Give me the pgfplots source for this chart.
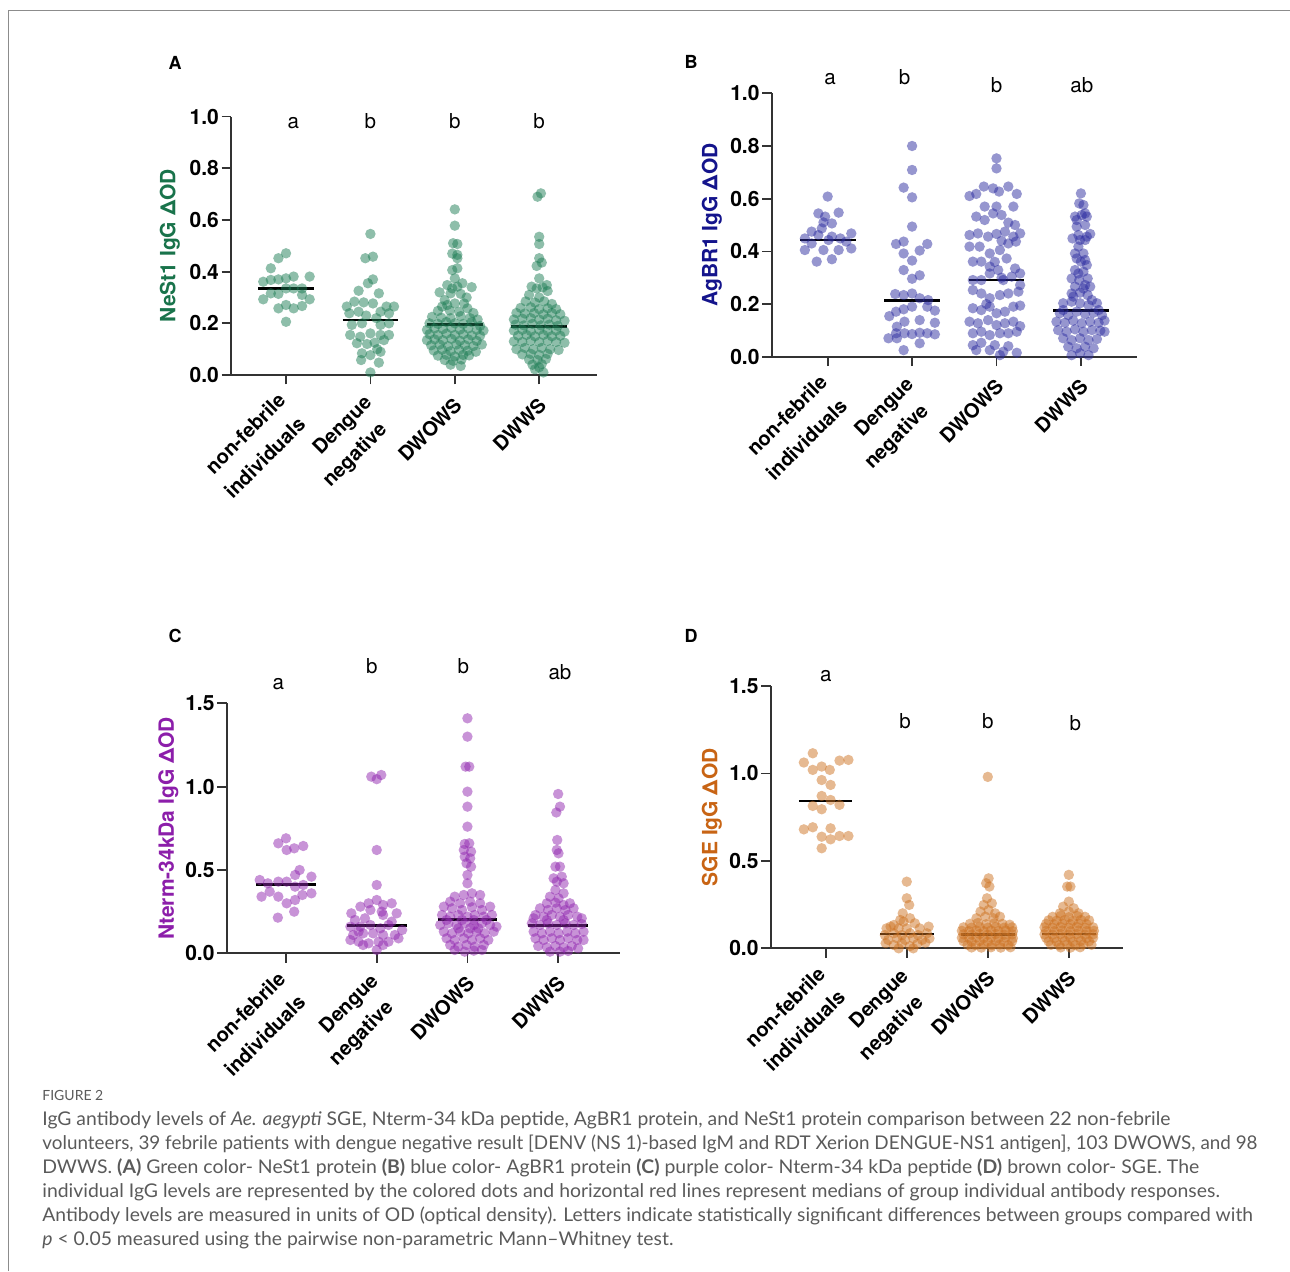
\documentclass[border=0pt]{standalone}
\usepackage{graphicx}
\usepackage{pgfplots}
\pgfplotsset{compat=1.18}
\usepackage{fontspec}
\setmainfont{TeX Gyre Heros}
\newfontfamily\capfont{Lato}
\definecolor{cg}{RGB}{30,125,85}
\definecolor{lg}{RGB}{25,115,75}
\definecolor{cb}{RGB}{45,45,160}
\definecolor{lb}{RGB}{20,20,140}
\definecolor{cp}{RGB}{145,40,175}
\definecolor{lp}{RGB}{140,30,170}
\definecolor{co}{RGB}{205,115,35}
\definecolor{lo}{RGB}{200,100,20}
\definecolor{capgray}{RGB}{90,90,90}
\tikzset{lett/.style={anchor=base, font=\fontsize{10.3}{12}\selectfont},
  xl/.style={rotate=45, anchor=north east, inner sep=0pt, text height=7.1pt, text depth=0pt, font=\fontsize{10}{12}\selectfont\bfseries}}
\newcommand\xlabs{%
\node[xl] at ([shift={(-4.65pt,-8.2pt)}]axis cs:0,0) {non-febrile};
\node[xl] at ([shift={(5.35pt,-20.05pt)}]axis cs:0,0) {individuals};
\node[xl] at ([shift={(-3.8pt,-9.2pt)}]axis cs:1,0) {Dengue};
\node[xl] at ([shift={(3.7pt,-22.55pt)}]axis cs:1,0) {negative};
\node[xl] at ([shift={(-0.85pt,-10.5pt)}]axis cs:2,0) {DWOWS};
\node[xl] at ([shift={(-0.85pt,-10.5pt)}]axis cs:3,0) {DWWS};
}
\pgfplotsset{
  prism/.style={
    scale only axis, anchor=south west, clip=false,
    axis lines=left, axis line style={-, line width=0.85pt, draw=black!80},
    tick align=outside, major tick length=4.7pt,
    every tick/.style={line width=0.85pt, draw=black!80},
    xtick={0,1,2,3}, xticklabels={},
    yticklabel style={font=\fontsize{10.5}{12}\selectfont\bfseries, inner xsep=1.2pt},
    /pgf/number format/fixed, /pgf/number format/fixed zerofill,
    /pgf/number format/precision=1, /pgf/number format/assume math mode=true,
    ymin=0,
  },
  ylab/.style={every axis y label/.style={at={(axis description cs:#1,0.5)}, rotate=90, anchor=center, font=\fontsize{10.5}{12}\selectfont\bfseries}},
  dots/.style={only marks, mark=*, mark size=2.6pt, color=#1, mark options={draw opacity=0, line width=0pt, fill=#1, fill opacity=0.5}},
  med/.style={black, line width=1.4pt, no marks},
}
\begin{document}
\begin{tikzpicture}[x=0.5pt,y=-0.5pt]
\useasboundingbox (0,0) rectangle (1290,1271);
\draw[black!45, line width=0.5pt] (8,1271) -- (8,10) -- (1290,10);
% panel letters
\node[font=\fontsize{9}{10}\selectfont\bfseries] at (175,63) {A};
\node[font=\fontsize{9}{10}\selectfont\bfseries] at (691,62) {B};
\node[font=\fontsize{9}{10}\selectfont\bfseries] at (175,636) {C};
\node[font=\fontsize{9}{10}\selectfont\bfseries] at (691,636) {D};

% ================= A =================
\begin{axis}[prism, at={(115.5pt,-187.5pt)}, width=183pt, height=129.2pt,
  xmin=-0.652, xmax=3.685, ymax=1, ytick={0,0.2,0.4,0.6,0.8,1},
  ylab=-0.167, ylabel={\color{lg}NeSt1 IgG ΔOD}]
\addplot[dots=cg] table[x expr=\thisrow{d}+0, y=v, row sep=\\] {d v\\
0 0.471\\ -0.09 0.452\\ -0.18 0.413\\ -0.27 0.361\\ -0.18 0.368\\ -0.09 0.370\\ 0 0.374\\ 0.09 0.381\\ 0.28 0.381\\ -0.27 0.293\\ -0.18 0.316\\ -0.09 0.314\\ 0.09 0.335\\ 0.19 0.310\\ 0.28 0.293\\ -0.09 0.258\\ 0 0.271\\ 0.09 0.258\\ 0.19 0.267\\ 0 0.206\\ 0.19 0.335\\ 0 0.335\\};
\addplot[dots=cg] table[x expr=\thisrow{d}+1, y=v, row sep=\\] {d v\\
0 0.546\\ -0.06 0.452\\ 0.03 0.458\\ 0.03 0.370\\ -0.03 0.355\\ -0.14 0.326\\ 0.10 0.316\\ -0.28 0.265\\ -0.19 0.284\\ -0.08 0.281\\ 0.03 0.277\\ 0.19 0.265\\ 0.28 0.265\\ -0.25 0.239\\ -0.14 0.245\\ 0.12 0.245\\ 0.22 0.239\\ -0.22 0.194\\ -0.10 0.200\\ 0.12 0.194\\ 0.22 0.200\\ -0.24 0.155\\ -0.12 0.148\\ 0 0.161\\ 0.12 0.155\\ -0.16 0.123\\ -0.04 0.120\\ 0.05 0.125\\ 0.16 0.135\\ -0.10 0.084\\ 0 0.077\\ 0.12 0.090\\ 0.10 0.048\\ -0.11 0.058\\ 0 0.010\\ 0.22 0.155\\ -0.05 0.230\\ 0.07 0.220\\ 0.08 0.100\\};
\addplot[dots=cg] table[x expr=\thisrow{d}+2, y=v, row sep=\\] {d v\\
0 0.641\\ 0 0.578\\ -0.02 0.510\\ 0.03 0.507\\ -0.03 0.470\\ 0.03 0.465\\ 0.03 0.452\\ -0.03 0.406\\ 0.03 0.413\\ 0 0.374\\ -0.09 0.348\\ 0.09 0.355\\ -0.03 0.335\\ 0.03 0.342\\ -0.05 0.316\\ 0.07 0.314\\ 0 0.277\\ -0.09 0.271\\ 0.11 0.277\\ -0.15 0.265\\ 0.15 0.258\\
-0.2 0.248\\ -0.06 0.25\\ 0.05 0.245\\ 0.22 0.24\\
-0.27 0.225\\ -0.16 0.222\\ -0.05 0.22\\ 0.07 0.228\\ 0.18 0.22\\ 0.27 0.215\\
-0.3 0.2\\ -0.2 0.198\\ -0.1 0.205\\ 0 0.2\\ 0.1 0.198\\ 0.2 0.205\\ 0.3 0.19\\
-0.33 0.175\\ -0.24 0.18\\ -0.14 0.178\\ -0.04 0.182\\ 0.06 0.176\\ 0.16 0.18\\ 0.26 0.175\\ 0.34 0.172\\
-0.3 0.158\\ -0.2 0.155\\ -0.1 0.16\\ 0 0.155\\ 0.1 0.158\\ 0.2 0.153\\ 0.3 0.152\\
-0.33 0.135\\ -0.24 0.138\\ -0.14 0.135\\ -0.04 0.14\\ 0.06 0.133\\ 0.16 0.138\\ 0.26 0.132\\
-0.28 0.115\\ -0.18 0.118\\ -0.08 0.112\\ 0.02 0.118\\ 0.12 0.115\\ 0.22 0.112\\ 0.32 0.118\\
-0.25 0.095\\ -0.15 0.098\\ -0.05 0.092\\ 0.05 0.097\\ 0.15 0.094\\ 0.25 0.09\\
-0.2 0.075\\ -0.1 0.078\\ 0 0.072\\ 0.1 0.078\\ 0.17 0.076\\
-0.12 0.058\\ -0.02 0.055\\ 0.08 0.06\\ -0.05 0.04\\ 0.07 0.035\\
-0.12 0.29\\ 0.14 0.3\\ -0.18 0.32\\ 0.2 0.34\\};
\addplot[dots=cg] table[x expr=\thisrow{d}+3, y=v, row sep=\\] {d v\\
-0.02 0.690\\ 0.02 0.703\\ 0 0.535\\ 0 0.507\\ 0 0.452\\ -0.03 0.422\\ 0.03 0.435\\ 0 0.374\\ -0.09 0.342\\ 0.09 0.348\\ -0.03 0.335\\ 0.04 0.339\\ 0.1 0.325\\ -0.12 0.31\\ 0 0.3\\
-0.16 0.285\\ -0.05 0.28\\ 0.06 0.285\\ 0.15 0.275\\
-0.22 0.26\\ -0.1 0.262\\ 0 0.255\\ 0.1 0.258\\ 0.2 0.255\\
-0.27 0.24\\ -0.17 0.238\\ -0.06 0.24\\ 0.05 0.235\\ 0.15 0.24\\ 0.25 0.235\\
-0.3 0.215\\ -0.2 0.218\\ -0.1 0.22\\ 0 0.215\\ 0.1 0.218\\ 0.2 0.212\\ 0.3 0.21\\
-0.28 0.195\\ -0.18 0.192\\ -0.08 0.198\\ 0.02 0.192\\ 0.12 0.195\\ 0.22 0.19\\
-0.3 0.172\\ -0.2 0.175\\ -0.1 0.17\\ 0 0.175\\ 0.1 0.17\\ 0.2 0.172\\ 0.3 0.168\\
-0.25 0.152\\ -0.15 0.155\\ -0.05 0.15\\ 0.05 0.155\\ 0.15 0.15\\ 0.25 0.152\\
-0.3 0.13\\ -0.2 0.128\\ -0.1 0.132\\ 0 0.128\\ 0.1 0.132\\ 0.2 0.128\\ 0.3 0.125\\
-0.27 0.1\\ -0.17 0.105\\ -0.07 0.1\\ 0.03 0.105\\ 0.13 0.1\\ 0.23 0.097\\
-0.2 0.08\\ -0.1 0.082\\ 0 0.078\\ 0.1 0.082\\
-0.12 0.06\\ -0.02 0.058\\ 0.08 0.062\\ -0.08 0.04\\ 0.03 0.042\\ -0.05 0.022\\ 0.05 0.01\\ 0 0.03\\};
\addplot[med] coordinates {(-0.33,0.335) (0.33,0.335)};
\addplot[med] coordinates {(0.67,0.213) (1.33,0.213)};
\addplot[med] coordinates {(1.67,0.194) (2.33,0.194)};
\addplot[med] coordinates {(2.67,0.187) (3.33,0.187)};
\node[lett] at (axis cs:0.087,0.955) {a};
\node[lett] at (axis cs:1,0.955) {b};
\node[lett] at (axis cs:2,0.955) {b};
\node[lett] at (axis cs:3,0.955) {b};
\xlabs
\end{axis}

% ================= B =================
\begin{axis}[prism, at={(385.85pt,-178.35pt)}, width=182.5pt, height=131.7pt,
  xmin=-0.663, xmax=3.661, ymax=1, ytick={0,0.2,0.4,0.6,0.8,1},
  ylab=-0.164, ylabel={\color{lb}AgBR1 IgG ΔOD}]
\addplot[dots=cb] table[x expr=\thisrow{d}+0, y=v, row sep=\\] {d v\\
0 0.608\\ -0.11 0.544\\ -0.03 0.532\\ 0.13 0.547\\ 0.05 0.506\\ -0.19 0.475\\ -0.07 0.487\\ -0.11 0.462\\ 0.05 0.456\\ 0.15 0.449\\ 0.28 0.468\\ -0.27 0.449\\ -0.19 0.43\\ -0.27 0.405\\ -0.05 0.405\\ 0.13 0.405\\ 0.28 0.411\\ -0.13 0.361\\ 0.05 0.37\\ 0.01 0.443\\ 0.22 0.437\\ -0.05 0.51\\};
\addplot[dots=cb] table[x expr=\thisrow{d}+1, y=v, row sep=\\] {d v\\
0 0.80\\ 0 0.709\\ -0.1 0.642\\ 0 0.605\\ 0 0.494\\ -0.19 0.428\\ -0.1 0.437\\ 0.18 0.428\\ -0.1 0.392\\ 0.09 0.403\\ 0 0.365\\ -0.1 0.329\\ 0.09 0.309\\ 0 0.296\\ -0.2 0.238\\ -0.1 0.234\\ 0 0.24\\ 0.09 0.222\\ 0.19 0.215\\ -0.27 0.154\\ -0.19 0.171\\ -0.1 0.18\\ 0 0.19\\ 0.18 0.19\\ 0.27 0.175\\ -0.18 0.114\\ -0.09 0.133\\ 0.09 0.139\\ 0.27 0.129\\ -0.19 0.089\\ -0.09 0.089\\ 0 0.086\\ 0.09 0.091\\ 0.27 0.085\\ -0.28 0.07\\ -0.18 0.07\\ 0.09 0.051\\ -0.1 0.025\\ 0.18 0.089\\};
\addplot[dots=cb] table[x expr=\thisrow{d}+2, y=v, row sep=\\] {d v\\
0 0.753\\ 0 0.715\\ -0.24 0.618\\ -0.15 0.646\\ -0.04 0.639\\ 0.03 0.627\\ 0.14 0.646\\ 0.24 0.618\\ 0 0.57\\ -0.04 0.544\\ 0.06 0.538\\ -0.24 0.532\\ -0.14 0.519\\ 0.14 0.509\\ 0.22 0.5\\
-0.32 0.462\\ -0.22 0.468\\ -0.1 0.456\\ 0 0.466\\ 0.1 0.475\\ 0.2 0.456\\ 0.28 0.468\\
-0.32 0.418\\ -0.2 0.418\\ -0.08 0.392\\ 0.04 0.405\\ 0.14 0.43\\ 0.23 0.437\\
-0.28 0.361\\ -0.18 0.361\\ -0.08 0.342\\ 0.02 0.329\\ 0.12 0.373\\ 0.22 0.335\\ 0.28 0.316\\
-0.28 0.291\\ -0.18 0.291\\ -0.08 0.316\\ 0.08 0.291\\ 0.18 0.304\\ 0.28 0.272\\
-0.28 0.253\\ -0.18 0.24\\ -0.08 0.222\\ 0.04 0.234\\ 0.14 0.24\\ 0.26 0.247\\
-0.28 0.184\\ -0.18 0.177\\ -0.08 0.19\\ 0 0.165\\ 0.1 0.171\\ 0.2 0.19\\ 0.28 0.194\\
-0.32 0.133\\ -0.22 0.127\\ -0.1 0.139\\ 0 0.12\\ 0.1 0.127\\ 0.2 0.133\\ 0.28 0.116\\
-0.28 0.089\\ -0.18 0.095\\ -0.08 0.082\\ 0.04 0.089\\ 0.14 0.089\\ 0.24 0.095\\
-0.28 0.044\\ -0.18 0.053\\ -0.02 0.044\\ 0.14 0.04\\ -0.24 0.025\\ -0.08 0.025\\ 0.08 0.019\\ 0.24 0.015\\ 0.04 0.006\\
-0.14 0.57\\ 0.2 0.57\\ -0.32 0.61\\ 0.06 0.44\\ -0.12 0.2\\ 0.06 0.3\\ -0.02 0.36\\};
\addplot[dots=cb] table[x expr=\thisrow{d}+3, y=v, row sep=\\] {d v\\
0 0.62\\ -0.02 0.582\\ 0.03 0.576\\ -0.07 0.532\\ 0.01 0.538\\ 0.07 0.532\\ -0.05 0.494\\ 0.05 0.5\\ -0.1 0.449\\ -0.01 0.443\\ 0.07 0.456\\ 0.11 0.466\\ -0.03 0.418\\ 0.03 0.392\\ -0.05 0.373\\ 0.05 0.367\\ 0 0.361\\ -0.07 0.329\\ 0.03 0.323\\ -0.11 0.297\\ -0.02 0.291\\ 0.08 0.297\\ -0.07 0.266\\ 0.03 0.259\\ 0.11 0.266\\ -0.11 0.24\\ -0.01 0.243\\ 0.08 0.234\\
-0.21 0.203\\ -0.11 0.209\\ -0.01 0.203\\ 0.09 0.196\\ 0.19 0.203\\
-0.25 0.165\\ -0.15 0.158\\ -0.05 0.171\\ 0.05 0.162\\ 0.15 0.167\\ 0.25 0.158\\
-0.29 0.133\\ -0.19 0.129\\ -0.09 0.137\\ 0.01 0.127\\ 0.11 0.133\\ 0.21 0.129\\ 0.28 0.137\\
-0.27 0.101\\ -0.17 0.095\\ -0.07 0.104\\ 0.03 0.095\\ 0.13 0.101\\ 0.23 0.099\\ 0.28 0.095\\
-0.21 0.07\\ -0.11 0.063\\ -0.01 0.07\\ 0.09 0.063\\ 0.19 0.067\\
-0.15 0.038\\ -0.05 0.032\\ 0.05 0.038\\ 0.15 0.032\\ -0.11 0.006\\ -0.01 0.013\\ 0.09 0.006\\
-0.05 0.519\\ 0.05 0.544\\ -0.03 0.462\\ 0.05 0.443\\ -0.07 0.392\\ 0.07 0.348\\ -0.03 0.316\\ 0.05 0.272\\ -0.09 0.228\\ 0.13 0.215\\ -0.21 0.177\\ 0.21 0.177\\};
\addplot[med] coordinates {(-0.33,0.443) (0.33,0.443)};
\addplot[med] coordinates {(0.67,0.213) (1.33,0.213)};
\addplot[med] coordinates {(1.67,0.291) (2.33,0.291)};
\addplot[med] coordinates {(2.67,0.175) (3.33,0.175)};
\node[lett] at (axis cs:0.03,1.032) {a};
\node[lett] at (axis cs:0.91,1.032) {b};
\node[lett] at (axis cs:2,1.003) {b};
\node[lett] at (axis cs:3.01,1.003) {ab};
\xlabs
\end{axis}

% ================= C =================
\begin{axis}[prism, at={(113.35pt,-476.65pt)}, width=196.7pt, height=125pt,
  xmin=-0.654, xmax=3.683, ymax=1.5, ytick={0,0.5,1,1.5},
  ylab=-0.148, ylabel={\color{lp}Nterm-34kDa IgG ΔOD}]
\addplot[dots=cp] table[x expr=\thisrow{d}+0, y=v, row sep=\\] {d v\\
0 0.69\\ -0.085 0.66\\ 0.09 0.63\\ 0.007 0.62\\ 0.19 0.644\\ 0.15 0.5\\ 0.1 0.47\\ 0.28 0.46\\ -0.29 0.44\\ -0.2 0.42\\ -0.085 0.43\\ 0.007 0.43\\ 0.1 0.4\\ 0.19 0.41\\ -0.27 0.34\\ -0.18 0.37\\ -0.085 0.34\\ 0.007 0.3\\ 0.1 0.32\\ 0.18 0.35\\ 0.28 0.36\\ 0.09 0.25\\ -0.09 0.214\\};
\addplot[dots=cp] table[x expr=\thisrow{d}+1, y=v, row sep=\\] {d v\\
-0.06 1.06\\ 0.05 1.07\\ 0 1.045\\ 0 0.62\\ 0 0.41\\ -0.09 0.30\\ 0 0.32\\ 0.07 0.29\\ 0.165 0.30\\ -0.18 0.28\\ -0.28 0.24\\ -0.07 0.26\\ 0.055 0.25\\ 0.22 0.24\\ -0.24 0.20\\ -0.13 0.21\\ 0.07 0.23\\ 0.165 0.19\\ -0.29 0.16\\ -0.18 0.16\\ -0.07 0.17\\ 0.04 0.15\\ 0.13 0.17\\ 0.28 0.14\\ -0.26 0.11\\ -0.15 0.12\\ -0.04 0.12\\ 0.07 0.11\\ 0.2 0.11\\ -0.29 0.08\\ -0.2 0.07\\ -0.09 0.06\\ 0.02 0.07\\ 0.13 0.07\\ 0.24 0.09\\ -0.15 0.05\\ 0 0.02\\ 0.07 0.05\\ -0.2 0.13\\};
\addplot[dots=cp] table[x expr=\thisrow{d}+2, y=v, row sep=\\] {d v\\
0 1.41\\ 0 1.30\\ -0.02 1.12\\ 0.02 1.12\\ 0 0.97\\ 0 0.88\\ 0 0.76\\ -0.03 0.656\\ 0.02 0.66\\ -0.04 0.62\\ 0.04 0.61\\ -0.03 0.58\\ 0.03 0.57\\ -0.01 0.54\\ 0.04 0.52\\ 0 0.47\\ 0 0.42\\
-0.14 0.34\\ -0.04 0.35\\ 0.05 0.36\\ 0.14 0.35\\ -0.19 0.31\\ -0.08 0.30\\ 0.03 0.31\\ 0.14 0.30\\ -0.26 0.28\\ -0.17 0.27\\ -0.06 0.26\\ 0.05 0.276\\ 0.16 0.26\\ 0.25 0.28\\
-0.28 0.23\\ -0.19 0.22\\ -0.1 0.23\\ 0 0.22\\ 0.08 0.23\\ 0.18 0.22\\ 0.27 0.23\\
-0.3 0.17\\ -0.21 0.18\\ -0.12 0.17\\ -0.03 0.18\\ 0.07 0.17\\ 0.16 0.18\\ 0.25 0.17\\ 0.32 0.16\\
-0.26 0.13\\ -0.17 0.12\\ -0.08 0.13\\ 0.01 0.12\\ 0.1 0.13\\ 0.19 0.12\\ 0.29 0.13\\
-0.23 0.09\\ -0.14 0.08\\ -0.04 0.09\\ 0.05 0.08\\ 0.14 0.09\\ 0.23 0.08\\
-0.19 0.05\\ -0.1 0.04\\ -0.01 0.05\\ 0.08 0.04\\ 0.18 0.05\\
-0.14 0.02\\ -0.03 0.01\\ 0.07 0.016\\ 0.16 0.02\\
-0.23 0.2\\ 0.21 0.2\\ -0.06 0.2\\ 0.07 0.2\\ 0.03 0.15\\ -0.1 0.15\\ 0.12 0.15\\};
\addplot[dots=cp] table[x expr=\thisrow{d}+3, y=v, row sep=\\] {d v\\
0 0.956\\ 0.02 0.88\\ -0.02 0.845\\ -0.01 0.68\\ -0.015 0.62\\ 0.004 0.6\\ -0.03 0.52\\ 0.02 0.52\\ -0.05 0.45\\ 0.04 0.46\\ -0.015 0.43\\ 0.06 0.42\\ -0.03 0.38\\ 0.06 0.36\\ -0.09 0.34\\ 0.004 0.33\\
-0.125 0.30\\ -0.03 0.304\\ 0.06 0.29\\ 0.13 0.3\\
-0.2 0.27\\ -0.11 0.26\\ -0.015 0.27\\ 0.08 0.26\\ 0.17 0.27\\
-0.25 0.23\\ -0.16 0.22\\ -0.07 0.23\\ 0.02 0.22\\ 0.11 0.23\\ 0.21 0.22\\
-0.29 0.18\\ -0.2 0.17\\ -0.11 0.18\\ -0.015 0.17\\ 0.08 0.18\\ 0.17 0.17\\ 0.26 0.176\\
-0.27 0.13\\ -0.18 0.12\\ -0.09 0.13\\ 0.004 0.12\\ 0.1 0.13\\ 0.19 0.12\\ 0.28 0.13\\
-0.25 0.09\\ -0.16 0.08\\ -0.07 0.09\\ 0.02 0.08\\ 0.11 0.09\\ 0.21 0.08\\ 0.28 0.08\\
-0.22 0.044\\ -0.125 0.036\\ -0.03 0.044\\ 0.06 0.036\\ 0.15 0.044\\ 0.22 0.03\\
-0.09 0.01\\ 0.02 0.01\\ 0.11 0.014\\
-0.27 0.21\\ 0.26 0.21\\ -0.125 0.2\\ 0.06 0.2\\};
\addplot[med] coordinates {(-0.33,0.414) (0.33,0.414)};
\addplot[med] coordinates {(0.67,0.166) (1.33,0.166)};
\addplot[med] coordinates {(1.67,0.202) (2.33,0.202)};
\addplot[med] coordinates {(2.67,0.166) (3.33,0.166)};
\node[lett] at (axis cs:-0.085,1.58) {a};
\node[lett] at (axis cs:0.945,1.68) {b};
\node[lett] at (axis cs:1.956,1.68) {b};
\node[lett] at (axis cs:3.02,1.64) {ab};
\xlabs
\end{axis}

% ================= D =================
\begin{axis}[prism, at={(385.35pt,-474.15pt)}, width=176.2pt, height=131.2pt,
  xmin=-0.679, xmax=3.670, ymax=1.5, ytick={0,0.5,1,1.5},
  ylab=-0.167, ylabel={\color{lo}SGE IgG ΔOD}]
\addplot[dots=co] table[x expr=\thisrow{d}+0, y=v, row sep=\\] {d v\\
-0.16 1.115\\ -0.27 1.062\\ -0.16 1.02\\ -0.05 1.039\\ 0.05 1.02\\ 0.17 1.073\\ 0.28 1.077\\ -0.05 0.962\\ 0.06 0.934\\ -0.05 0.871\\ -0.16 0.814\\ -0.05 0.795\\ 0.17 0.82\\ -0.27 0.68\\ -0.16 0.692\\ 0.06 0.686\\ -0.05 0.638\\ 0.06 0.623\\ 0.17 0.642\\ 0.28 0.642\\ -0.05 0.572\\ 0.06 0.848\\};
\addplot[dots=co] table[x expr=\thisrow{d}+1, y=v, row sep=\\] {d v\\
0 0.381\\ 0 0.286\\ 0.03 0.248\\ -0.05 0.2\\ 0.04 0.172\\ -0.08 0.162\\ -0.16 0.133\\ 0.1 0.143\\ -0.2 0.124\\ 0.27 0.124\\ -0.25 0.114\\ -0.1 0.114\\ 0.16 0.114\\
-0.27 0.076\\ -0.16 0.086\\ -0.06 0.076\\ 0.04 0.086\\ 0.14 0.076\\ 0.25 0.086\\
-0.23 0.048\\ -0.12 0.057\\ -0.02 0.048\\ 0.08 0.057\\ 0.19 0.048\\ 0.28 0.057\\
-0.26 0.029\\ -0.16 0.019\\ -0.06 0.029\\ 0.04 0.013\\ 0.13 0.025\\ 0.23 0.032\\
-0.1 0.0\\ 0.08 0.0\\ 0 0.114\\ -0.04 0.152\\};
\addplot[dots=co] table[x expr=\thisrow{d}+2, y=v, row sep=\\] {d v\\
0 0.98\\ 0.01 0.4\\ -0.02 0.372\\ 0.02 0.353\\ -0.01 0.286\\ -0.05 0.248\\ 0.05 0.257\\ -0.09 0.21\\ 0.01 0.219\\ 0.09 0.2\\ -0.14 0.172\\ -0.03 0.181\\ 0.07 0.172\\ 0.15 0.181\\
-0.22 0.14\\ -0.12 0.145\\ -0.02 0.138\\ 0.08 0.143\\ 0.18 0.14\\ 0.27 0.135\\
-0.3 0.12\\ -0.2 0.118\\ -0.1 0.122\\ 0 0.118\\ 0.1 0.122\\ 0.2 0.118\\ 0.3 0.12\\
-0.32 0.1\\ -0.23 0.098\\ -0.14 0.102\\ -0.05 0.098\\ 0.04 0.102\\ 0.13 0.098\\ 0.22 0.102\\ 0.31 0.098\\
-0.3 0.08\\ -0.2 0.078\\ -0.1 0.082\\ 0 0.078\\ 0.1 0.082\\ 0.2 0.078\\ 0.3 0.08\\
-0.32 0.06\\ -0.23 0.058\\ -0.14 0.062\\ -0.05 0.058\\ 0.04 0.062\\ 0.13 0.058\\ 0.22 0.062\\ 0.31 0.058\\
-0.3 0.04\\ -0.2 0.038\\ -0.1 0.042\\ 0 0.038\\ 0.1 0.042\\ 0.2 0.038\\ 0.3 0.04\\
-0.25 0.02\\ -0.15 0.018\\ -0.05 0.022\\ 0.05 0.018\\ 0.15 0.022\\ 0.25 0.018\\
-0.2 0.005\\ -0.08 0.004\\ 0.04 0.006\\ 0.16 0.004\\ 0.28 0.006\\};
\addplot[dots=co] table[x expr=\thisrow{d}+3, y=v, row sep=\\] {d v\\
0 0.42\\ -0.02 0.353\\ 0.02 0.353\\ 0 0.267\\ -0.07 0.238\\ 0.06 0.229\\ -0.11 0.2\\ 0 0.21\\ 0.12 0.2\\
-0.2 0.18\\ -0.1 0.185\\ 0 0.178\\ 0.1 0.185\\ 0.2 0.18\\
-0.25 0.16\\ -0.15 0.158\\ -0.05 0.162\\ 0.05 0.158\\ 0.15 0.162\\ 0.25 0.16\\
-0.28 0.14\\ -0.18 0.138\\ -0.08 0.142\\ 0.02 0.138\\ 0.12 0.142\\ 0.22 0.138\\
-0.3 0.12\\ -0.2 0.118\\ -0.1 0.122\\ 0 0.118\\ 0.1 0.122\\ 0.2 0.118\\ 0.3 0.12\\
-0.28 0.1\\ -0.18 0.098\\ -0.08 0.102\\ 0.02 0.098\\ 0.12 0.102\\ 0.22 0.098\\ 0.31 0.1\\
-0.3 0.08\\ -0.2 0.078\\ -0.1 0.082\\ 0 0.078\\ 0.1 0.082\\ 0.2 0.078\\ 0.3 0.08\\
-0.28 0.06\\ -0.18 0.058\\ -0.08 0.062\\ 0.02 0.058\\ 0.12 0.062\\ 0.22 0.058\\ 0.3 0.06\\
-0.25 0.04\\ -0.15 0.038\\ -0.05 0.042\\ 0.05 0.038\\ 0.15 0.042\\ 0.25 0.04\\
-0.22 0.02\\ -0.12 0.018\\ -0.02 0.022\\ 0.08 0.018\\ 0.18 0.022\\ 0.28 0.02\\
-0.1 0.005\\ 0.02 0.004\\ 0.14 0.006\\};
\addplot[med] coordinates {(-0.33,0.842) (0.33,0.842)};
\addplot[med] coordinates {(0.67,0.082) (1.33,0.082)};
\addplot[med] coordinates {(1.67,0.078) (2.33,0.078)};
\addplot[med] coordinates {(2.67,0.082) (3.33,0.082)};
\node[lett] at (axis cs:0,1.525) {a};
\node[lett] at (axis cs:0.98,1.258) {b};
\node[lett] at (axis cs:2,1.258) {b};
\node[lett] at (axis cs:3.08,1.245) {b};
\xlabs
\end{axis}

% ================= caption =================
\begin{scope}[every node/.style={anchor=base west, inner sep=0pt, text=capgray, font=\capfont\fontsize{9.45}{12}\selectfont}]
\node[font=\capfont\fontsize{7}{8}\selectfont] at (42,1100) {FIGURE 2};
\node at (42,1125) {\scalebox{1.023}[1]{IgG antibody levels of \textit{Ae. aegypti} SGE, Nterm-34 kDa peptide, AgBR1 protein, and NeSt1 protein comparison between 22 non-febrile}};
\node at (42,1149) {\scalebox{0.997}[1]{volunteers, 39 febrile patients with dengue negative result [DENV (NS 1)-based IgM and RDT Xerion DENGUE-NS1 antigen], 103 DWOWS, and 98}};
\node at (42,1173) {\scalebox{1.028}[1]{DWWS. \textbf{(A)} Green color- NeSt1 protein \textbf{(B)} blue color- AgBR1 protein \textbf{(C)} purple color- Nterm-34 kDa peptide \textbf{(D)} brown color- SGE. The}};
\node at (42,1197) {\scalebox{1.026}[1]{individual IgG levels are represented by the colored dots and horizontal red lines represent medians of group individual antibody responses.}};
\node at (42,1221) {\scalebox{1.019}[1]{Antibody levels are measured in units of OD (optical density). Letters indicate statistically significant differences between groups compared with}};
\node at (42,1245) {\scalebox{1.024}[1]{\textit{p} < 0.05 measured using the pairwise non-parametric Mann–Whitney test.}};
\end{scope}
\end{tikzpicture}
\end{document}
